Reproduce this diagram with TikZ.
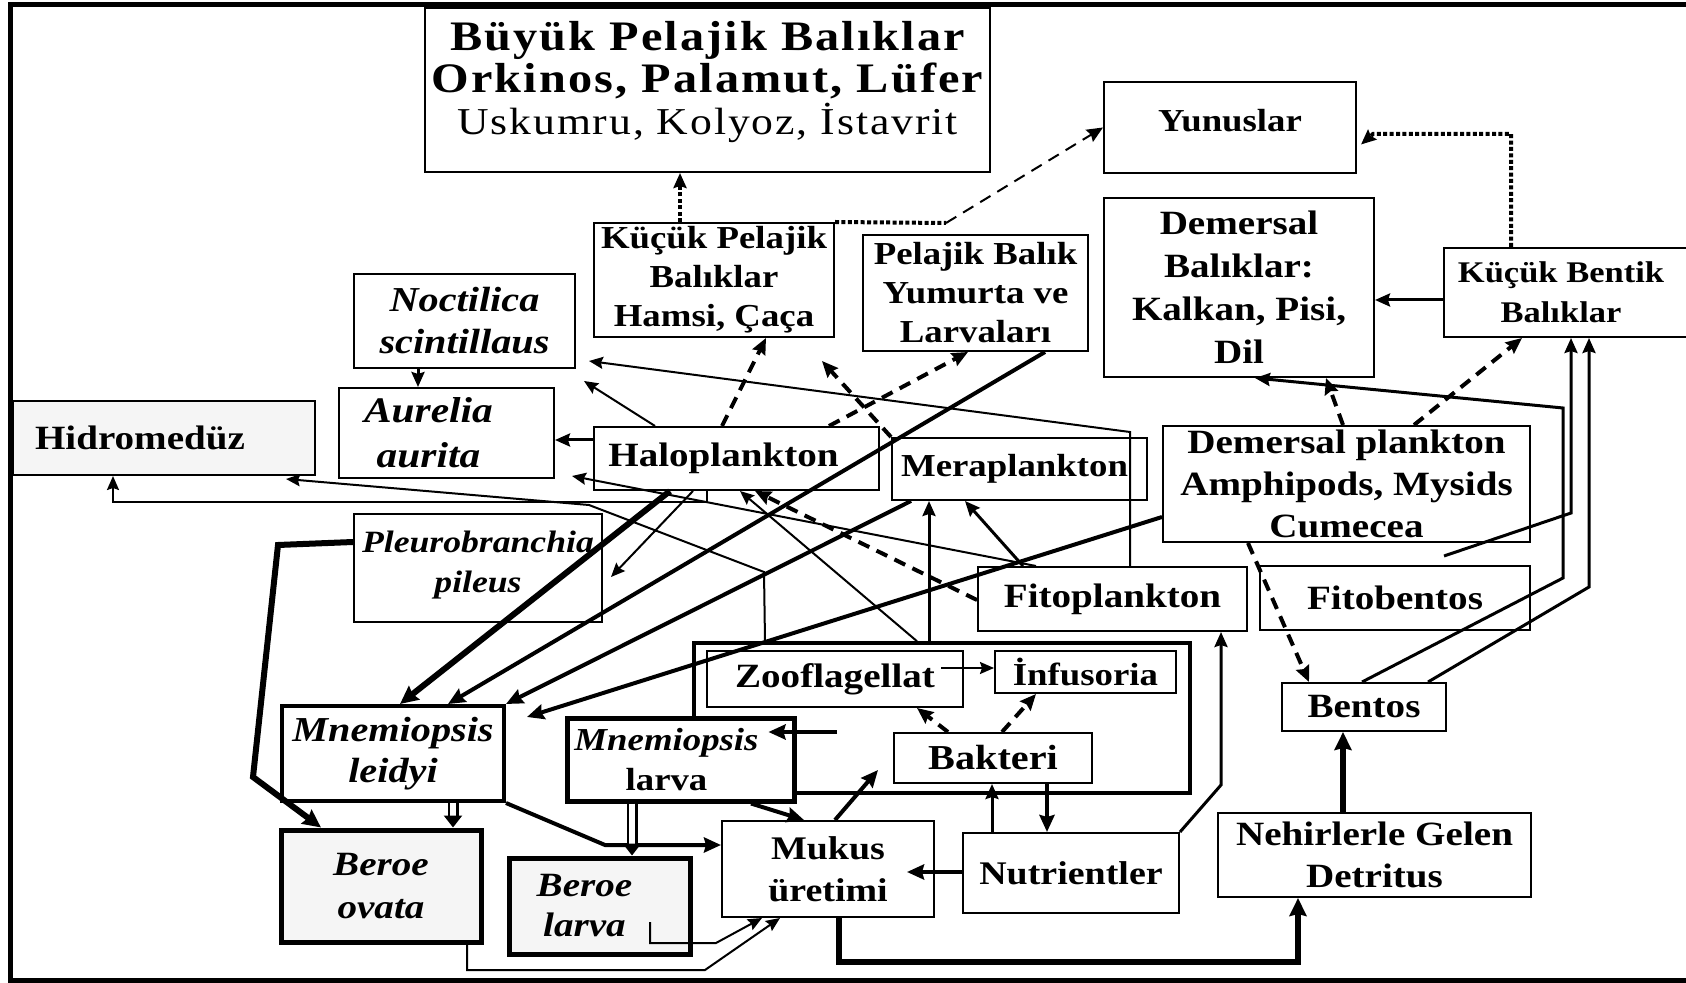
\documentclass[tikz,border=0pt]{standalone}
\usepackage{fontspec}
\setmainfont{Liberation Serif}[FakeStretch=1.15]
\usetikzlibrary{arrows.meta,calc}

\newlength{\du}
\setlength{\du}{0.5pt}
\newcommand{\fsz}[2]{\fontsize{#1}{#2}\selectfont}

\tikzset{
  box/.style={draw, fill=white, line width=2\du, inner sep=0pt, align=center,
    font=\bfseries\fsz{17}{21}},
  heavybox/.style={box, line width=5\du},
  greybox/.style={box, fill=black!4},
  link/.style={line width=2\du, -{Stealth[length=7pt,width=6pt,inset=1pt]}},
  medlink/.style={line width=3\du, -{Stealth[length=7.5pt,width=6.5pt,inset=1pt]}},
  fatlink/.style={line width=4\du, -{Stealth[length=8.5pt,width=7.5pt,inset=1pt]}},
  heavylink/.style={line width=6\du, -{Stealth[length=9pt,width=8.5pt,inset=1pt]}},
  dashlink/.style={line width=4\du, dash pattern=on 6pt off 4pt, -{Stealth[length=8pt,width=7pt,inset=1pt]}},
  dotline/.style={line width=4\du, dash pattern=on 2pt off 1.2pt},
  dotlink/.style={dotline, -{Stealth[length=7.5pt,width=6.5pt,inset=1pt]}},
  hollow/.style={line width=2.5\du, double=white, double distance=6\du, -{Triangle[length=6pt,width=9pt]}}
}

\begin{document}
\begin{tikzpicture}
\pgftransformyscale{-1.000000}
\useasboundingbox (0\du,0\du) rectangle (1686\du,983\du);
\draw[line width=5\du] (10\du,5\du) rectangle (1692\du,980\du);

% fish
\node[box, minimum width=565\du, minimum height=164\du] (buyuk) at (707.5\du,90\du)
  {\fsz{21}{24}\addfontfeature{LetterSpace=5}B\"uy\"uk Pelajik Bal\i klar\\
   \fsz{21}{24}\addfontfeature{LetterSpace=5}Orkinos, Palamut, L\"ufer\\
   \mdseries\fsz{19}{24}\addfontfeature{LetterSpace=5}Uskumru, Kolyoz, \.Istavrit\rule[-24\du]{0pt}{24\du}};
\node[box, minimum width=252\du, minimum height=91\du, font=\bfseries\fsz{16}{20}] (yunus) at (1230\du,127.5\du) {Yunuslar\rule[-14\du]{0pt}{14\du}};
\node[box, minimum width=270\du, minimum height=179\du, font=\bfseries\fsz{17}{21.5}] (dembal) at (1239\du,287.5\du)
  {Demersal\\Bal\i klar:\\Kalkan, Pisi,\\Dil};
\node[box, minimum width=244\du, minimum height=89\du, font=\bfseries\fsz{15}{20}] (kbent) at (1566\du,292.5\du)
  {K\"u\c c\"uk Bentik\hspace*{10\du}\\Bal\i klar\hspace*{10\du}};
\node[box, minimum width=240\du, minimum height=114\du, font=\bfseries\fsz{16}{19.5}] (kpel) at (714\du,280\du)
  {K\"u\c c\"uk Pelajik\\Bal\i klar\\Hamsi, \c Ca\c ca};
\node[box, minimum width=225\du, minimum height=116\du, font=\bfseries\fsz{16}{19.5}] (larva) at (975.5\du,293\du)
  {Pelajik Bal\i k\\Yumurta ve\\Larvalar\i};

% plankton
\node[box, minimum width=221\du, minimum height=94\du, font=\bfseries\itshape\fsz{17.5}{21}] (noctil) at (464.5\du,321\du)
  {Noctilica\\scintillaus};
\node[box, minimum width=215\du, minimum height=90\du, font=\bfseries\itshape\fsz{18}{22.5}] (aurel) at (446.5\du,433\du)
  {Aurelia\hspace*{36\du}\\aurita\hspace*{36\du}};
\node[greybox, minimum width=302\du, minimum height=74\du] (hidro) at (164\du,438\du) {Hidromed\"uz\hspace*{48\du}};
\node[box, minimum width=285\du, minimum height=63\du] (halo) at (736.5\du,458.5\du) {Haloplankton\hspace*{26\du}};
\node[box, minimum width=255\du, minimum height=62\du, font=\bfseries\fsz{16}{20}] (mera) at (1019.5\du,469\du) {Meraplankton\hspace*{10\du}};
\node[box, minimum width=367\du, minimum height=116\du] (dempl) at (1346.5\du,484\du)
  {Demersal plankton\\Amphipods, Mysids\\Cumecea};
\node[box, minimum width=248\du, minimum height=108\du, font=\bfseries\itshape\fsz{15.5}{20}] (pleuro) at (478\du,568\du)
  {Pleurobranchia\\pileus\rule[-12\du]{0pt}{12\du}};
\node[box, minimum width=269\du, minimum height=64\du] (fito) at (1112.5\du,599\du) {Fitoplankton};
\node[box, minimum width=270\du, minimum height=64\du] (fitob) at (1395\du,598\du) {Fitobentos};

% microbial loop
\node[box, line width=3.5\du, minimum width=496\du, minimum height=150\du] (grp) at (942\du,718\du) {};
\node[box, minimum width=256\du, minimum height=56\du] (zoof) at (835\du,679\du) {Zooflagellat};
\node[box, minimum width=181\du, minimum height=42\du, font=\bfseries\fsz{16}{20}] (infus) at (1085.5\du,672\du) {\.Infusoria};
\node[box, minimum width=198\du, minimum height=50\du, font=\bfseries\fsz{17.5}{21}] (bakteri) at (993\du,758\du) {Bakteri};

% ctenophores
\node[heavybox, line width=4\du, minimum width=222\du, minimum height=95\du, font=\bfseries\itshape\fsz{17.5}{20.5}] (mnleid) at (393\du,753.5\du)
  {Mnemiopsis\\leidyi};
\node[heavybox, minimum width=227\du, minimum height=83\du, font=\bfseries\fsz{16}{20}] (mnlarva) at (680.5\du,759.5\du)
  {\itshape Mnemiopsis\hspace*{28\du}\\\upshape larva\hspace*{28\du}};
\node[greybox, line width=5\du, minimum width=200\du, minimum height=112\du, font=\bfseries\itshape\fsz{17}{21.5}] (beroeov) at (381\du,886\du)
  {Beroe\\ovata};
\node[greybox, line width=5\du, minimum width=181\du, minimum height=96\du, font=\bfseries\itshape\fsz{17}{20}] (beroela) at (599.5\du,906\du)
  {Beroe\hspace*{30\du}\\larva\hspace*{30\du}};

% nutrients, benthos
\node[box, minimum width=212\du, minimum height=96\du, font=\bfseries\fsz{16.5}{21}] (mukus) at (828\du,869\du) {Mukus\\\"uretimi};
\node[box, minimum width=216\du, minimum height=80\du, font=\bfseries\fsz{16.5}{20}] (nutr) at (1071\du,873\du) {Nutrientler};
\node[box, minimum width=164\du, minimum height=48\du] (bentos) at (1364\du,707\du) {Bentos};
\node[box, minimum width=313\du, minimum height=84\du] (nehir) at (1374.5\du,855\du) {Nehirlerle Gelen\\Detritus};

\coordinate (fbfoot) at (1444\du,556\du);
\coordinate (blfoot) at (650\du,922\du);
\coordinate (grpfoot) at (837\du,732\du);

% fish links
\draw[dotlink] (kpel.north -| 680\du,0\du) -- (buyuk.south -| 680\du,0\du);
\draw[dotline] (kpel.north east) -- (946\du,223\du) coordinate (kpturn);
\draw[dashlink, line width=2\du] (kpturn) -- (yunus.west);
\draw[dotlink] (kbent.north -| 1511\du,0\du) |- ($(yunus.east)+(16\du,6.5\du)$) -- ($(yunus.east)+(4\du,17\du)$);
\draw[medlink] (kbent.west |- 0\du,300\du) -- (dembal.east |- 0\du,300\du);

% demersal side
\draw[dashlink] (dempl.north -| 1343\du,0\du) -- (dembal.south -| 1326\du,0\du);
\draw[dashlink] (dempl.north -| 1414\du,0\du) -- (kbent.south -| 1522\du,0\du);
\draw[medlink] (bentos.north -| 1362\du,0\du) -- (1563\du,578\du) -- (1563\du,408\du) -- (dembal.south -| 1255\du,0\du);
\draw[medlink] (fbfoot) -- (1571\du,513\du) -- (kbent.south -| 1571\du,0\du);
\draw[medlink] (bentos.north -| 1428\du,0\du) -- (1589\du,587\du) -- (kbent.south -| 1589\du,0\du);
\draw[dashlink] (dempl.south -| 1248\du,0\du) -- (bentos.north -| 1309\du,0\du);
\draw[heavylink] (nehir.north -| 1343\du,0\du) -- (bentos.south -| 1343\du,0\du);

% bottom cycle
\draw[heavylink] (mukus.south -| 839\du,0\du) -- (839\du,962\du) -| (nehir.south -| 1298\du,0\du);
\draw[medlink] (nutr.north east) -- (1221\du,785\du) -- (fito.south -| 1221\du,0\du);
\draw[medlink] (nutr.north -| 992\du,0\du) -- (bakteri.south -| 992\du,0\du);
\draw[fatlink] (bakteri.south -| 1047\du,0\du) -- (nutr.north -| 1047\du,0\du);
\draw[fatlink] (nutr.west |- 0\du,872\du) -- ($(mukus.east |- 0\du,872\du)+(-28\du,0\du)$);
\draw[fatlink] (mukus.north -| 835\du,0\du) -- ($(bakteri.west |- 0\du,770\du)+(-15\du,0\du)$);
\draw[fatlink] (mnlarva.south -| 751\du,0\du) -- (mukus.north -| 804\du,0\du);
\draw[fatlink] (mnleid.south east) -- (605\du,845\du) -- (mukus.west |- 0\du,845\du);
\draw[hollow] (mnleid.south -| 453\du,0\du) -- (beroeov.north -| 453\du,0\du);
\draw[hollow] (mnlarva.south -| 632\du,0\du) -- (beroela.north -| 632\du,0\du);
\draw[heavylink] (pleuro.west |- 0\du,542\du) -- (278\du,545\du) -- (253\du,777\du) -- (beroeov.north -| 321\du,0\du);
\draw[link] (beroeov.south -| 467\du,0\du) -- (467\du,970\du) -- (705\du,970\du) -- (mukus.south -| 780\du,0\du);
\draw[link] (blfoot) -- (650\du,943\du) -- (716\du,943\du) -- (mukus.south -| 762\du,0\du);
\draw[fatlink] (grpfoot) -- ($(mnlarva.east |- grpfoot)+(-28\du,0\du)$);
\draw[link] ($(zoof.east |- 0\du,668\du)+(-23\du,0\du)$) -- (infus.west |- 0\du,668\du);
\draw[dashlink] (bakteri.north -| 948\du,0\du) -- (zoof.south -| 917\du,0\du);
\draw[dashlink] (bakteri.north -| 1002\du,0\du) -- (infus.south -| 1036\du,0\du);

% plankton links
\draw[medlink] (grp.north -| 929\du,0\du) -- (mera.south -| 929\du,0\du);
\draw[link] (grp.north -| 917\du,0\du) -- (halo.south -| 740\du,0\du);
\draw[dashlink] (fito.west |- 0\du,600\du) -- (halo.south -| 755\du,0\du);
\draw[medlink] (fito.north -| 1023\du,0\du) -- (mera.south -| 965\du,0\du);
\draw[link] (fito.north -| 1036\du,0\du) -- ($(aurel.south east)+(17\du,-3\du)$);
\draw[link] (fito.north -| 1130\du,0\du) -- (1130\du,432\du) -- ($(noctil.south east)+(13\du,-8\du)$);
\draw[link] (halo.north -| 655\du,0\du) -- ($(noctil.south east)+(8\du,12\du)$);
\draw[dashlink] (halo.north -| 722\du,0\du) -- (kpel.south -| 766\du,0\du);
\draw[dashlink] (halo.north -| 829\du,0\du) -- (larva.south -| 968\du,0\du);
\draw[dashlink] (mera.north west) -- ($(kpel.south -| 822\du,0\du)+(0\du,23\du)$);
\draw[medlink] (halo.west |- 0\du,440\du) -- (aurel.east |- 0\du,440\du);
\draw[medlink] (noctil.south -| 418\du,0\du) -- (aurel.north -| 418\du,0\du);
\draw[link] (halo.south -| 693\du,0\du) -- ($(pleuro.east |- 0\du,577\du)+(8\du,0\du)$);
\draw[link] (halo.south -| 707\du,0\du) |- (113\du,502\du) -- (hidro.south -| 113\du,0\du);
\draw[link] (grp.north -| 765\du,0\du) -- (764\du,572\du) -- (589\du,505\du) -- ($(hidro.south east)+(-30\du,3\du)$);
\draw[heavylink] (halo.south -| 670\du,0\du) -- (mnleid.north -| 400\du,0\du);
\draw[fatlink] (larva.south -| 1045\du,0\du) -- (mnleid.north -| 448\du,0\du);
\draw[fatlink] ($(mera.south west)+(20\du,0\du)$) -- (mnleid.north east);
\draw[fatlink] (dempl.west |- 0\du,517\du) -- ($(mnleid.east |- 0\du,717\du)+(21\du,0\du)$);
\end{tikzpicture}
\end{document}
